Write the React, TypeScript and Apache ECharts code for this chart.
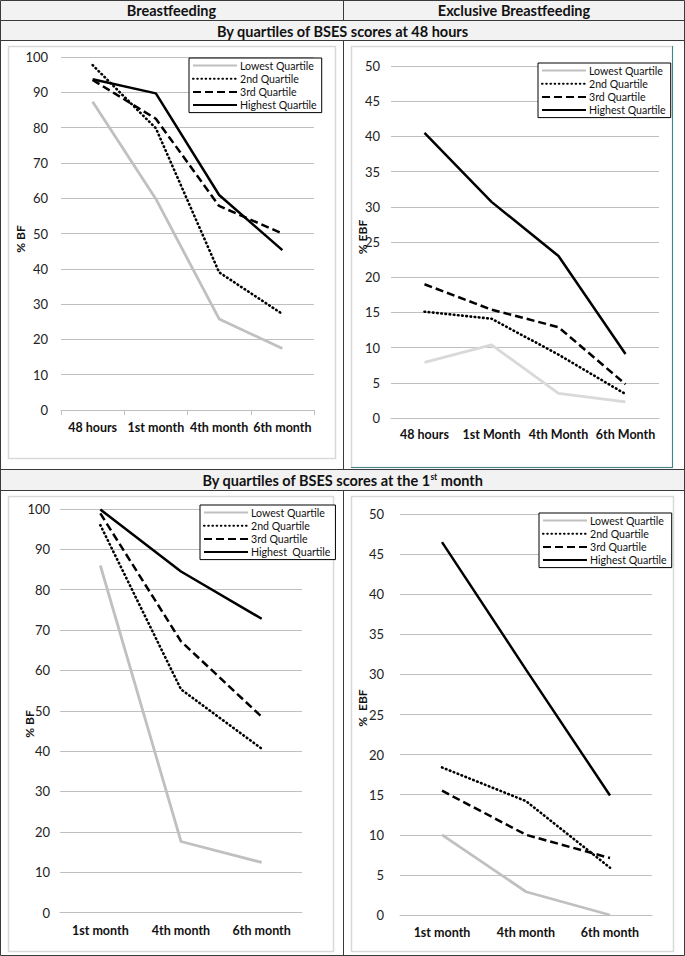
import React, { useEffect, useRef } from "react";
import * as echarts from "echarts";

const quartiles = ["Lowest Quartile", "2nd Quartile", "3rd Quartile", "Highest Quartile"];
const quartilesBL = ["Lowest Quartile", "2nd Quartile", "3rd Quartile", "Highest  Quartile"];

const catsBF48 = ["48 hours", "1st month", "4th month", "6th month"];
const catsEBF48 = ["48 hours", "1st Month", "4th Month", "6th Month"];
const cats1m = ["1st month", "4th month", "6th month"];

// Breastfeeding, quartiles at 48 hours
const bf48Lowest = [87.3, 59.8, 25.8, 17.4];
const bf48Second = [97.7, 79.8, 39.0, 27.2];
const bf48Third = [93.5, 82.5, 57.8, 50.0];
const bf48Highest = [93.7, 89.7, 60.9, 45.3];

// Exclusive breastfeeding, quartiles at 48 hours
const ebf48Lowest = [7.9, 10.4, 3.5, 2.3];
const ebf48Second = [15.1, 14.1, 9.0, 3.4];
const ebf48Third = [19.0, 15.4, 12.9, 4.8];
const ebf48Highest = [40.5, 30.7, 23.0, 9.1];

// Breastfeeding, quartiles at 1st month
const bf1mLowest = [86.0, 17.6, 12.4];
const bf1mSecond = [96.0, 55.3, 40.6];
const bf1mThird = [98.9, 67.2, 48.5];
const bf1mHighest = [99.9, 84.5, 72.8];

// Exclusive breastfeeding, quartiles at 1st month
const ebf1mLowest = [10.0, 2.9, 0.0];
const ebf1mSecond = [18.4, 14.2, 5.9];
const ebf1mThird = [15.5, 10.0, 7.1];
const ebf1mHighest = [46.5, 30.6, 14.9];

const FONT = 'Lato, "Open Sans", sans-serif';

export default function App() {
  const ref = useRef<HTMLDivElement>(null);

  useEffect(() => {
    document.body.style.margin = "0";
    if (!ref.current) return;
    const chart = echarts.init(ref.current, null, { renderer: "svg" });

    const styles = (lowColor: string): any[] => [
      { color: lowColor, width: 2.8, type: "solid" },
      { color: "#000", width: 2.6, type: [0.6, 3.6], cap: "round" },
      { color: "#000", width: 2.5, type: [8, 4] },
      { color: "#000", width: 2.5, type: "solid" },
    ];

    const mkSeries = (names: string[], data: number[][], idx: number, lowColor: string) => {
      const st = styles(lowColor);
      return names.map((n, i) => ({
        name: n,
        type: "line",
        xAxisIndex: idx,
        yAxisIndex: idx,
        data: data[i],
        symbol: "none",
        showSymbol: false,
        color: st[i].color,
        lineStyle: st[i],
        z: 3,
      }));
    };

    const grids = [
      { left: 61, top: 57, width: 253, height: 353 },
      { left: 391, top: 66, width: 268, height: 352 },
      { left: 60, top: 509, width: 242, height: 403.5 },
      { left: 400, top: 514, width: 252, height: 401 },
    ];

    const xAx = (idx: number, data: string[], ticks: boolean, margin: number) => ({
      type: "category",
      gridIndex: idx,
      data,
      boundaryGap: true,
      axisLine: { show: true, lineStyle: { color: "#bfbfbf", width: 1 } },
      axisTick: { show: ticks, length: 5, lineStyle: { color: "#bfbfbf" } },
      axisLabel: { interval: 0, fontFamily: FONT, fontWeight: "bold", fontSize: 12.5, color: "#111", margin },
      splitLine: { show: false },
    });

    const yAx = (idx: number, max: number, interval: number, margin: number) => ({
      type: "value",
      gridIndex: idx,
      min: 0,
      max,
      interval,
      axisLine: { show: false },
      axisTick: { show: false },
      axisLabel: { fontFamily: FONT, fontSize: 13, color: "#222", margin },
      splitLine: { show: true, lineStyle: { color: "#bfbfbf", width: 1 } },
    });

    const legend = (left: number, top: number, data: string[]) => ({
      left,
      top,
      orient: "vertical",
      data,
      itemWidth: 44,
      itemHeight: 9,
      itemGap: 2.2,
      padding: [2, 5, 2, 3],
      borderColor: "#000",
      borderWidth: 1,
      backgroundColor: "#fff",
      selectedMode: false,
      itemStyle: { color: "rgba(0,0,0,0)", borderWidth: 0, opacity: 0 },
      textStyle: { fontFamily: FONT, fontSize: 10.6, lineHeight: 9, color: "#111", padding: [0, 0, 0, -2] },
    });

    const axisTitle = (x: number, y: number, text: string) => ({
      type: "text",
      x,
      y,
      rotation: Math.PI / 2,
      style: {
        text,
        fontFamily: FONT,
        fontWeight: "bold",
        fontSize: 12,
        fill: "#111",
        textAlign: "center",
        textVerticalAlign: "middle",
      },
      z: 10,
    });

    const hdrText = (x: number, y: number, text: string) => ({
      type: "text",
      x,
      y,
      style: {
        text,
        fontFamily: FONT,
        fontWeight: "bold",
        fontSize: 14.5,
        fill: "#111",
        textAlign: "center",
        textVerticalAlign: "middle",
      },
      z: 10,
    });

    const border = "#3a3a3a";
    const line = (x1: number, y1: number, x2: number, y2: number, color = border) => ({
      type: "line",
      shape: { x1, y1, x2, y2 },
      style: { stroke: color, lineWidth: 1 },
      z: 5,
    });

    const graphic: any[] = [
      { type: "rect", shape: { x: 0, y: 0, width: 685, height: 41 }, style: { fill: "#f2f2f2" }, z: 0 },
      { type: "rect", shape: { x: 0, y: 469, width: 685, height: 21 }, style: { fill: "#f2f2f2" }, z: 0 },
      // inner chart frames
      { type: "rect", shape: { x: 8.5, y: 46.5, width: 327, height: 412 }, style: { fill: "none", stroke: "#d9d9d9", lineWidth: 1.5 }, z: 1 },
      { type: "rect", shape: { x: 351.5, y: 46.5, width: 321, height: 421 }, style: { fill: "none", stroke: "#d9d9d9", lineWidth: 1.5 }, z: 1 },
      line(672.5, 46, 672.5, 468, "#3f8787"),
      line(351, 467.5, 673, 467.5, "#3f8787"),
      { type: "rect", shape: { x: 8.5, y: 496.5, width: 325, height: 455 }, style: { fill: "none", stroke: "#d9d9d9", lineWidth: 1.5 }, z: 1 },
      { type: "rect", shape: { x: 351.5, y: 496.5, width: 322, height: 455 }, style: { fill: "none", stroke: "#d9d9d9", lineWidth: 1.5 }, z: 1 },
      // table lines
      { type: "rect", shape: { x: 0.5, y: 0.5, width: 684, height: 955 }, style: { fill: "none", stroke: border, lineWidth: 1 }, z: 6 },
      line(0, 20.5, 685, 20.5),
      line(0, 40.5, 685, 40.5),
      line(0, 469.5, 685, 469.5),
      line(0, 490.5, 685, 490.5),
      line(343.5, 0, 343.5, 20.5),
      line(343.5, 40.5, 343.5, 469.5),
      line(343.5, 490.5, 343.5, 956),
      hdrText(171.5, 10.5, "Breastfeeding"),
      hdrText(514, 10.5, "Exclusive Breastfeeding"),
      hdrText(342.5, 31, "By quartiles of BSES scores at 48 hours"),
      {
        type: "text",
        x: 342.5,
        y: 480,
        style: {
          text: "{a|By quartiles of BSES scores at the 1}{s|st}{a| month}",
          rich: {
            a: { fontFamily: FONT, fontWeight: "bold", fontSize: 14.5, fill: "#111", color: "#111" },
            s: { fontFamily: FONT, fontWeight: "bold", fontSize: 8.5, fill: "#111", color: "#111", verticalAlign: "top", padding: [0, 0, 6, 0] },
          },
          textAlign: "center",
          textVerticalAlign: "middle",
        },
        z: 10,
      },
      axisTitle(20, 239, "% BF"),
      axisTitle(362, 237, "% EBF"),
      axisTitle(29, 724, "% BF"),
      axisTitle(362, 708, "%  EBF"),
    ];

    chart.setOption({
      animation: false,
      backgroundColor: "#fff",
      textStyle: { fontFamily: FONT },
      grid: grids,
      xAxis: [
        xAx(0, catsBF48, true, 11),
        xAx(1, catsEBF48, false, 10),
        xAx(2, cats1m, false, 11),
        xAx(3, cats1m, false, 10.5),
      ],
      yAxis: [yAx(0, 100, 10, 13), yAx(1, 50, 5, 11), yAx(2, 100, 10, 10), yAx(3, 50, 5, 16)],
      legend: [
        legend(189, 58, quartiles),
        legend(538, 63, quartiles),
        legend(200, 505, quartilesBL),
        legend(539, 513, quartiles),
      ],
      series: [
        ...mkSeries(quartiles, [bf48Lowest, bf48Second, bf48Third, bf48Highest], 0, "#c0c0c0"),
        ...mkSeries(quartiles, [ebf48Lowest, ebf48Second, ebf48Third, ebf48Highest], 1, "#d9d9d9"),
        ...mkSeries(quartilesBL, [bf1mLowest, bf1mSecond, bf1mThird, bf1mHighest], 2, "#c0c0c0"),
        ...mkSeries(quartiles, [ebf1mLowest, ebf1mSecond, ebf1mThird, ebf1mHighest], 3, "#c0c0c0"),
      ],
      graphic,
    } as any);

    return () => chart.dispose();
  }, []);

  return <div ref={ref} style={{ width: 685, height: 956 }} />;
}
